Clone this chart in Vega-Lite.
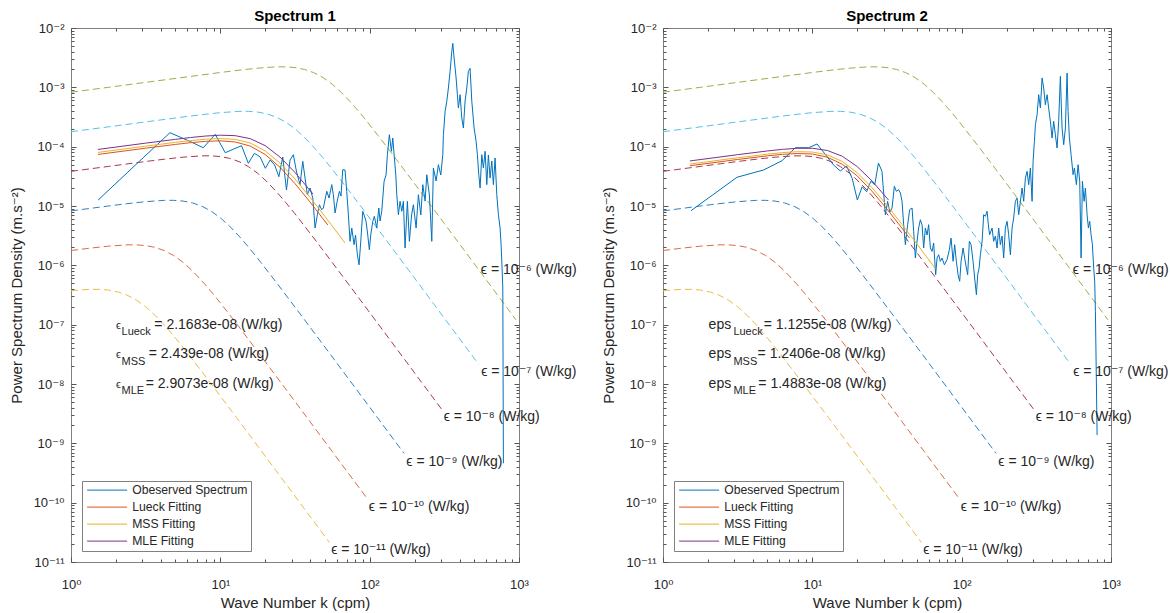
{
  "$schema": "https://vega.github.io/schema/vega-lite/v6.json",
  "autosize": {"type": "pad"},
  "padding": {"left": 8, "top": 8, "right": 5, "bottom": 2},
  "bounds": "flush",
  "spacing": 144,
  "config": {
    "font": "Liberation Sans",
    "view": {"stroke": "#808080", "strokeWidth": 1},
    "axis": {"domain": false, "grid": false, "labelFont": "Liberation Sans, DejaVu Sans", "labelFontSize": 13, "labelColor": "#262626", "titleFont": "Liberation Sans, DejaVu Sans", "titleFontSize": 15, "titleFontWeight": "normal", "titleColor": "#262626", "tickColor": "#555555", "tickWidth": 1, "labelOverlap": false, "labelFlush": false, "labelBound": false},
    "title": {"font": "Liberation Sans", "fontSize": 15, "fontWeight": "bold", "color": "#000000", "offset": -2},
    "legend": {"title": null, "labelFont": "Liberation Sans", "labelFontSize": 12.2, "labelColor": "#262626", "strokeColor": "#808080", "fillColor": "#ffffff", "padding": 3, "rowPadding": 4, "labelOffset": 35, "symbolType": "M-0.8,0H7.2", "symbolSize": 100, "symbolStrokeWidth": 1, "cornerRadius": 0}
  },
  "datasets": {
    "eps": [
      {"eps": "1e-6", "k": 1, "psd": 8.28e-4}, {"eps": "1e-6", "k": 1.778, "psd": 1.0e-3}, {"eps": "1e-6", "k": 3.162, "psd": 1.213e-3}, {"eps": "1e-6", "k": 5.623, "psd": 1.469e-3}, {"eps": "1e-6", "k": 10, "psd": 1.778e-3}, {"eps": "1e-6", "k": 13.34, "psd": 1.945e-3}, {"eps": "1e-6", "k": 17.78, "psd": 2.104e-3}, {"eps": "1e-6", "k": 23.71, "psd": 2.213e-3}, {"eps": "1e-6", "k": 27.38, "psd": 2.216e-3}, {"eps": "1e-6", "k": 31.62, "psd": 2.153e-3}, {"eps": "1e-6", "k": 36.52, "psd": 2.009e-3}, {"eps": "1e-6", "k": 42.17, "psd": 1.77e-3}, {"eps": "1e-6", "k": 48.7, "psd": 1.462e-3}, {"eps": "1e-6", "k": 56.23, "psd": 1.125e-3}, {"eps": "1e-6", "k": 64.94, "psd": 8.1e-4}, {"eps": "1e-6", "k": 74.99, "psd": 5.53e-4}, {"eps": "1e-6", "k": 86.6, "psd": 3.64e-4}, {"eps": "1e-6", "k": 100, "psd": 2.333e-4}, {"eps": "1e-6", "k": 133.4, "psd": 9.18e-5}, {"eps": "1e-6", "k": 177.8, "psd": 3.516e-5}, {"eps": "1e-6", "k": 237.1, "psd": 1.34e-5}, {"eps": "1e-6", "k": 316.2, "psd": 5.07e-6}, {"eps": "1e-6", "k": 562.3, "psd": 7.23e-7}, {"eps": "1e-6", "k": 955, "psd": 1.205e-7},
      {"eps": "1e-7", "k": 1, "psd": 1.782e-4}, {"eps": "1e-7", "k": 1.778, "psd": 2.158e-4}, {"eps": "1e-7", "k": 3.162, "psd": 2.612e-4}, {"eps": "1e-7", "k": 5.623, "psd": 3.162e-4}, {"eps": "1e-7", "k": 7.499, "psd": 3.459e-4}, {"eps": "1e-7", "k": 10, "psd": 3.741e-4}, {"eps": "1e-7", "k": 13.34, "psd": 3.936e-4}, {"eps": "1e-7", "k": 15.4, "psd": 3.94e-4}, {"eps": "1e-7", "k": 17.78, "psd": 3.828e-4}, {"eps": "1e-7", "k": 20.54, "psd": 3.573e-4}, {"eps": "1e-7", "k": 23.71, "psd": 3.148e-4}, {"eps": "1e-7", "k": 27.38, "psd": 2.6e-4}, {"eps": "1e-7", "k": 31.62, "psd": 2.0e-4}, {"eps": "1e-7", "k": 36.52, "psd": 1.44e-4}, {"eps": "1e-7", "k": 42.17, "psd": 9.84e-5}, {"eps": "1e-7", "k": 48.7, "psd": 6.48e-5}, {"eps": "1e-7", "k": 56.23, "psd": 4.15e-5}, {"eps": "1e-7", "k": 74.99, "psd": 1.633e-5}, {"eps": "1e-7", "k": 100, "psd": 6.25e-6}, {"eps": "1e-7", "k": 133.4, "psd": 2.382e-6}, {"eps": "1e-7", "k": 177.8, "psd": 9.02e-7}, {"eps": "1e-7", "k": 316.2, "psd": 1.285e-7}, {"eps": "1e-7", "k": 537, "psd": 2.143e-8},
      {"eps": "1e-8", "k": 1, "psd": 3.837e-5}, {"eps": "1e-8", "k": 1.778, "psd": 4.645e-5}, {"eps": "1e-8", "k": 3.162, "psd": 5.623e-5}, {"eps": "1e-8", "k": 4.217, "psd": 6.15e-5}, {"eps": "1e-8", "k": 5.623, "psd": 6.65e-5}, {"eps": "1e-8", "k": 7.499, "psd": 7.0e-5}, {"eps": "1e-8", "k": 8.66, "psd": 7.01e-5}, {"eps": "1e-8", "k": 10, "psd": 6.81e-5}, {"eps": "1e-8", "k": 11.55, "psd": 6.35e-5}, {"eps": "1e-8", "k": 13.34, "psd": 5.6e-5}, {"eps": "1e-8", "k": 15.4, "psd": 4.62e-5}, {"eps": "1e-8", "k": 17.78, "psd": 3.556e-5}, {"eps": "1e-8", "k": 20.54, "psd": 2.562e-5}, {"eps": "1e-8", "k": 23.71, "psd": 1.75e-5}, {"eps": "1e-8", "k": 27.38, "psd": 1.152e-5}, {"eps": "1e-8", "k": 31.62, "psd": 7.38e-6}, {"eps": "1e-8", "k": 42.17, "psd": 2.904e-6}, {"eps": "1e-8", "k": 56.23, "psd": 1.112e-6}, {"eps": "1e-8", "k": 74.99, "psd": 4.236e-7}, {"eps": "1e-8", "k": 100, "psd": 1.603e-7}, {"eps": "1e-8", "k": 177.8, "psd": 2.286e-8}, {"eps": "1e-8", "k": 302, "psd": 3.81e-9},
      {"eps": "1e-9", "k": 1, "psd": 8.26e-6}, {"eps": "1e-9", "k": 1.778, "psd": 1.0e-5}, {"eps": "1e-9", "k": 2.371, "psd": 1.094e-5}, {"eps": "1e-9", "k": 3.162, "psd": 1.183e-5}, {"eps": "1e-9", "k": 4.217, "psd": 1.245e-5}, {"eps": "1e-9", "k": 4.87, "psd": 1.246e-5}, {"eps": "1e-9", "k": 5.623, "psd": 1.211e-5}, {"eps": "1e-9", "k": 6.494, "psd": 1.13e-5}, {"eps": "1e-9", "k": 7.499, "psd": 9.95e-6}, {"eps": "1e-9", "k": 8.66, "psd": 8.22e-6}, {"eps": "1e-9", "k": 10, "psd": 6.32e-6}, {"eps": "1e-9", "k": 11.55, "psd": 4.554e-6}, {"eps": "1e-9", "k": 13.34, "psd": 3.112e-6}, {"eps": "1e-9", "k": 15.4, "psd": 2.048e-6}, {"eps": "1e-9", "k": 17.78, "psd": 1.312e-6}, {"eps": "1e-9", "k": 23.71, "psd": 5.16e-7}, {"eps": "1e-9", "k": 31.62, "psd": 1.977e-7}, {"eps": "1e-9", "k": 42.17, "psd": 7.53e-8}, {"eps": "1e-9", "k": 56.23, "psd": 2.851e-8}, {"eps": "1e-9", "k": 100, "psd": 4.064e-9}, {"eps": "1e-9", "k": 169.8, "psd": 6.78e-10},
      {"eps": "1e-10", "k": 1, "psd": 1.778e-6}, {"eps": "1e-10", "k": 1.334, "psd": 1.945e-6}, {"eps": "1e-10", "k": 1.778, "psd": 2.104e-6}, {"eps": "1e-10", "k": 2.371, "psd": 2.213e-6}, {"eps": "1e-10", "k": 2.738, "psd": 2.216e-6}, {"eps": "1e-10", "k": 3.162, "psd": 2.153e-6}, {"eps": "1e-10", "k": 3.652, "psd": 2.009e-6}, {"eps": "1e-10", "k": 4.217, "psd": 1.77e-6}, {"eps": "1e-10", "k": 4.87, "psd": 1.462e-6}, {"eps": "1e-10", "k": 5.623, "psd": 1.125e-6}, {"eps": "1e-10", "k": 6.494, "psd": 8.1e-7}, {"eps": "1e-10", "k": 7.499, "psd": 5.53e-7}, {"eps": "1e-10", "k": 8.66, "psd": 3.64e-7}, {"eps": "1e-10", "k": 10, "psd": 2.333e-7}, {"eps": "1e-10", "k": 13.34, "psd": 9.18e-8}, {"eps": "1e-10", "k": 17.78, "psd": 3.516e-8}, {"eps": "1e-10", "k": 23.71, "psd": 1.34e-8}, {"eps": "1e-10", "k": 31.62, "psd": 5.07e-9}, {"eps": "1e-10", "k": 56.23, "psd": 7.23e-10}, {"eps": "1e-10", "k": 95.5, "psd": 1.205e-10},
      {"eps": "1e-11", "k": 1, "psd": 3.741e-7}, {"eps": "1e-11", "k": 1.334, "psd": 3.936e-7}, {"eps": "1e-11", "k": 1.54, "psd": 3.94e-7}, {"eps": "1e-11", "k": 1.778, "psd": 3.828e-7}, {"eps": "1e-11", "k": 2.054, "psd": 3.573e-7}, {"eps": "1e-11", "k": 2.371, "psd": 3.148e-7}, {"eps": "1e-11", "k": 2.738, "psd": 2.6e-7}, {"eps": "1e-11", "k": 3.162, "psd": 2.0e-7}, {"eps": "1e-11", "k": 3.652, "psd": 1.44e-7}, {"eps": "1e-11", "k": 4.217, "psd": 9.84e-8}, {"eps": "1e-11", "k": 4.87, "psd": 6.48e-8}, {"eps": "1e-11", "k": 5.623, "psd": 4.15e-8}, {"eps": "1e-11", "k": 7.499, "psd": 1.633e-8}, {"eps": "1e-11", "k": 10, "psd": 6.25e-9}, {"eps": "1e-11", "k": 13.34, "psd": 2.382e-9}, {"eps": "1e-11", "k": 17.78, "psd": 9.02e-10}, {"eps": "1e-11", "k": 31.62, "psd": 1.285e-10}, {"eps": "1e-11", "k": 53.7, "psd": 2.143e-11}
    ],
    "epslabels": [
      {"k": 555, "psd": 8.34e-7, "label": "ϵ = 10⁻⁶ (W/kg)"},
      {"k": 558, "psd": 1.61e-8, "label": "ϵ = 10⁻⁷ (W/kg)"},
      {"k": 313, "psd": 2.81e-9, "label": "ϵ = 10⁻⁸ (W/kg)"},
      {"k": 176, "psd": 4.9e-10, "label": "ϵ = 10⁻⁹ (W/kg)"},
      {"k": 98.7, "psd": 8.55e-11, "label": "ϵ = 10⁻¹⁰ (W/kg)"},
      {"k": 55.2, "psd": 1.59e-11, "label": "ϵ = 10⁻¹¹ (W/kg)"}
    ],
    "fit1": [
      {"series": "Lueck Fitting", "k": 1.514, "psd": 7.385e-5}, {"series": "Lueck Fitting", "k": 3.162, "psd": 9.43e-5}, {"series": "Lueck Fitting", "k": 5.012, "psd": 1.092e-4}, {"series": "Lueck Fitting", "k": 6.31, "psd": 1.166e-4}, {"series": "Lueck Fitting", "k": 7.943, "psd": 1.229e-4}, {"series": "Lueck Fitting", "k": 10, "psd": 1.254e-4}, {"series": "Lueck Fitting", "k": 12.59, "psd": 1.2e-4}, {"series": "Lueck Fitting", "k": 15.85, "psd": 1.024e-4}, {"series": "Lueck Fitting", "k": 19.95, "psd": 7.39e-5}, {"series": "Lueck Fitting", "k": 25.12, "psd": 4.486e-5}, {"series": "Lueck Fitting", "k": 31.62, "psd": 2.385e-5}, {"series": "Lueck Fitting", "k": 39.81, "psd": 1.174e-5}, {"series": "Lueck Fitting", "k": 52.48, "psd": 4.78e-6},
      {"series": "MSS Fitting", "k": 1.514, "psd": 7.99e-5}, {"series": "MSS Fitting", "k": 3.162, "psd": 1.02e-4}, {"series": "MSS Fitting", "k": 5.012, "psd": 1.182e-4}, {"series": "MSS Fitting", "k": 6.31, "psd": 1.264e-4}, {"series": "MSS Fitting", "k": 7.943, "psd": 1.335e-4}, {"series": "MSS Fitting", "k": 10, "psd": 1.371e-4}, {"series": "MSS Fitting", "k": 12.59, "psd": 1.327e-4}, {"series": "MSS Fitting", "k": 15.85, "psd": 1.152e-4}, {"series": "MSS Fitting", "k": 19.95, "psd": 8.51e-5}, {"series": "MSS Fitting", "k": 25.12, "psd": 5.275e-5}, {"series": "MSS Fitting", "k": 31.62, "psd": 2.847e-5}, {"series": "MSS Fitting", "k": 39.81, "psd": 1.41e-5}, {"series": "MSS Fitting", "k": 50.12, "psd": 6.71e-6}, {"series": "MSS Fitting", "k": 63.1, "psd": 3.123e-6}, {"series": "MSS Fitting", "k": 68.39, "psd": 2.385e-6},
      {"series": "MLE Fitting", "k": 1.514, "psd": 8.98e-5}, {"series": "MLE Fitting", "k": 3.162, "psd": 1.147e-4}, {"series": "MLE Fitting", "k": 5.012, "psd": 1.33e-4}, {"series": "MLE Fitting", "k": 6.31, "psd": 1.425e-4}, {"series": "MLE Fitting", "k": 7.943, "psd": 1.51e-4}, {"series": "MLE Fitting", "k": 10, "psd": 1.561e-4}, {"series": "MLE Fitting", "k": 12.59, "psd": 1.533e-4}, {"series": "MLE Fitting", "k": 15.85, "psd": 1.365e-4}, {"series": "MLE Fitting", "k": 19.95, "psd": 1.042e-4}, {"series": "MLE Fitting", "k": 25.12, "psd": 6.67e-5}, {"series": "MLE Fitting", "k": 31.62, "psd": 3.676e-5}, {"series": "MLE Fitting", "k": 41.69, "psd": 1.596e-5}
    ],
    "fit2": [
      {"series": "Lueck Fitting", "k": 1.514, "psd": 4.77e-5}, {"series": "Lueck Fitting", "k": 3.162, "psd": 6.083e-5}, {"series": "Lueck Fitting", "k": 5.012, "psd": 7.008e-5}, {"series": "Lueck Fitting", "k": 6.31, "psd": 7.42e-5}, {"series": "Lueck Fitting", "k": 7.943, "psd": 7.666e-5}, {"series": "Lueck Fitting", "k": 10, "psd": 7.51e-5}, {"series": "Lueck Fitting", "k": 12.59, "psd": 6.66e-5}, {"series": "Lueck Fitting", "k": 15.85, "psd": 5.06e-5}, {"series": "Lueck Fitting", "k": 19.95, "psd": 3.224e-5}, {"series": "Lueck Fitting", "k": 25.12, "psd": 1.77e-5}, {"series": "Lueck Fitting", "k": 31.62, "psd": 8.87e-6}, {"series": "Lueck Fitting", "k": 39.81, "psd": 4.236e-6}, {"series": "Lueck Fitting", "k": 44.67, "psd": 2.897e-6},
      {"series": "MSS Fitting", "k": 1.514, "psd": 5.09e-5}, {"series": "MSS Fitting", "k": 3.162, "psd": 6.493e-5}, {"series": "MSS Fitting", "k": 5.012, "psd": 7.486e-5}, {"series": "MSS Fitting", "k": 6.31, "psd": 7.94e-5}, {"series": "MSS Fitting", "k": 7.943, "psd": 8.232e-5}, {"series": "MSS Fitting", "k": 10, "psd": 8.12e-5}, {"series": "MSS Fitting", "k": 12.59, "psd": 7.295e-5}, {"series": "MSS Fitting", "k": 15.85, "psd": 5.64e-5}, {"series": "MSS Fitting", "k": 19.95, "psd": 3.652e-5}, {"series": "MSS Fitting", "k": 25.12, "psd": 2.032e-5}, {"series": "MSS Fitting", "k": 31.62, "psd": 1.024e-5}, {"series": "MSS Fitting", "k": 39.81, "psd": 4.907e-6}, {"series": "MSS Fitting", "k": 50.12, "psd": 2.296e-6}, {"series": "MSS Fitting", "k": 66.68, "psd": 8.85e-7},
      {"series": "MLE Fitting", "k": 1.514, "psd": 5.748e-5}, {"series": "MLE Fitting", "k": 3.162, "psd": 7.333e-5}, {"series": "MLE Fitting", "k": 5.012, "psd": 8.47e-5}, {"series": "MLE Fitting", "k": 6.31, "psd": 9.01e-5}, {"series": "MLE Fitting", "k": 7.943, "psd": 9.4e-5}, {"series": "MLE Fitting", "k": 10, "psd": 9.4e-5}, {"series": "MLE Fitting", "k": 12.59, "psd": 8.63e-5}, {"series": "MLE Fitting", "k": 15.85, "psd": 6.908e-5}, {"series": "MLE Fitting", "k": 19.95, "psd": 4.63e-5}, {"series": "MLE Fitting", "k": 25.12, "psd": 2.643e-5}, {"series": "MLE Fitting", "k": 32.36, "psd": 1.261e-5}
    ],
    "obs1": [
      {"k": 1.52, "psd": 1.26e-5}, {"k": 3.08, "psd": 6.7e-5}, {"k": 4.6, "psd": 1.72e-4}, {"k": 6.17, "psd": 1.245e-4}, {"k": 7.69, "psd": 9.6e-5}, {"k": 9.24, "psd": 1.615e-4}, {"k": 10.78, "psd": 7.91e-5}, {"k": 12.32, "psd": 9.14e-5}, {"k": 13.87, "psd": 1.038e-4}, {"k": 15.4, "psd": 5.25e-5}, {"k": 16.92, "psd": 7.73e-5}, {"k": 18.48, "psd": 6.7e-5}, {"k": 20.02, "psd": 4.32e-5}, {"k": 21.56, "psd": 5.96e-5}, {"k": 23.11, "psd": 4.91e-5}, {"k": 24.65, "psd": 3.12e-5}, {"k": 26.18, "psd": 6.7e-5}, {"k": 27.72, "psd": 1.86e-5}, {"k": 29.3, "psd": 5.96e-5}, {"k": 30.83, "psd": 7.32e-5}, {"k": 32.38, "psd": 3.74e-5}, {"k": 34.19, "psd": 2.29e-5}, {"k": 35.64, "psd": 5.66e-5}, {"k": 36.93, "psd": 2.96e-5}, {"k": 38.26, "psd": 1.55e-5}, {"k": 39.89, "psd": 2.01e-5}, {"k": 41.59, "psd": 1.36e-5}, {"k": 43.09, "psd": 4.26e-6}, {"k": 44.65, "psd": 7.13e-6}, {"k": 46.04, "psd": 1.05e-5}, {"k": 47.78, "psd": 8.66e-6}, {"k": 48.97, "psd": 9.25e-6}, {"k": 51.61, "psd": 1.77e-5}, {"k": 53.47, "psd": 1.36e-5}, {"k": 55.74, "psd": 2.29e-5}, {"k": 57.14, "psd": 1.55e-5}, {"k": 58.66, "psd": 7.62e-6}, {"k": 60.5, "psd": 1.17e-5}, {"k": 62.7, "psd": 1.77e-5}, {"k": 64.3, "psd": 1.47e-5}, {"k": 66.0, "psd": 4.09e-5}, {"k": 68.4, "psd": 4.04e-5}, {"k": 70.2, "psd": 1.77e-5}, {"k": 72.0, "psd": 7.13e-6}, {"k": 73.9, "psd": 2.54e-6}, {"k": 75.9, "psd": 4.26e-6}, {"k": 78.6, "psd": 2.23e-6}, {"k": 80.4, "psd": 3.24e-6}, {"k": 82.7, "psd": 1.51e-6}, {"k": 84.9, "psd": 1.02e-6}, {"k": 87.2, "psd": 2.57e-6}, {"k": 89.9, "psd": 8.14e-6}, {"k": 91.7, "psd": 7.05e-6}, {"k": 94.6, "psd": 5.52e-6}, {"k": 97.1, "psd": 3.24e-6}, {"k": 99.5, "psd": 1.83e-6}, {"k": 101.7, "psd": 3.24e-6}, {"k": 104.9, "psd": 5.52e-6}, {"k": 107.5, "psd": 6.7e-6}, {"k": 111.6, "psd": 4.26e-6}, {"k": 115.1, "psd": 9.25e-6}, {"k": 117.4, "psd": 5.58e-6}, {"k": 120.5, "psd": 8.14e-6}, {"k": 124.9, "psd": 2.61e-5}, {"k": 128.8, "psd": 3.37e-5}, {"k": 131.4, "psd": 7.32e-5}, {"k": 135.5, "psd": 1.59e-4}, {"k": 139.8, "psd": 8.36e-5}, {"k": 142.8, "psd": 1.4e-4}, {"k": 146.4, "psd": 6.44e-5}, {"k": 149.6, "psd": 3.37e-5}, {"k": 151.9, "psd": 1.55e-5}, {"k": 155.7, "psd": 7.13e-6}, {"k": 159.8, "psd": 1.2e-5}, {"k": 164.1, "psd": 8.14e-6}, {"k": 168.2, "psd": 1.2e-5}, {"k": 172.6, "psd": 1.96e-6}, {"k": 178.9, "psd": 1.2e-5}, {"k": 184.5, "psd": 2.54e-6}, {"k": 190.9, "psd": 7.05e-6}, {"k": 196.2, "psd": 1.05e-5}, {"k": 204.6, "psd": 4.26e-6}, {"k": 212.0, "psd": 1.55e-5}, {"k": 220.0, "psd": 7.05e-6}, {"k": 226.9, "psd": 2.29e-5}, {"k": 235.0, "psd": 1.21e-5}, {"k": 241.3, "psd": 3.37e-5}, {"k": 251.2, "psd": 1.53e-5}, {"k": 260.6, "psd": 2.54e-6}, {"k": 267.1, "psd": 4.37e-5}, {"k": 278.5, "psd": 2.64e-5}, {"k": 288.6, "psd": 4.97e-5}, {"k": 299.5, "psd": 3.33e-5}, {"k": 308.8, "psd": 7.32e-5}, {"k": 311.7, "psd": 1.59e-4}, {"k": 320.0, "psd": 3.94e-4}, {"k": 328.4, "psd": 5.81e-4}, {"k": 336.6, "psd": 9.74e-4}, {"k": 345.6, "psd": 1.86e-3}, {"k": 354.8, "psd": 4.05e-3}, {"k": 360.3, "psd": 5.52e-3}, {"k": 367.6, "psd": 3.12e-3}, {"k": 379.1, "psd": 1.44e-3}, {"k": 386.8, "psd": 7.52e-4}, {"k": 392.8, "psd": 4.49e-4}, {"k": 403.3, "psd": 7.52e-4}, {"k": 414.0, "psd": 3.04e-4}, {"k": 424.3, "psd": 2.06e-4}, {"k": 435.5, "psd": 5.89e-4}, {"k": 447.1, "psd": 9.74e-4}, {"k": 458.2, "psd": 1.86e-3}, {"k": 470.4, "psd": 2.09e-3}, {"k": 483.0, "psd": 5.81e-4}, {"k": 500.4, "psd": 2.06e-4}, {"k": 516.1, "psd": 1.23e-4}, {"k": 526.5, "psd": 7.32e-5}, {"k": 537.9, "psd": 3.37e-5}, {"k": 548.9, "psd": 2.01e-5}, {"k": 563.4, "psd": 7.32e-5}, {"k": 577.5, "psd": 4.37e-5}, {"k": 592.8, "psd": 8.36e-5}, {"k": 608.5, "psd": 2.29e-5}, {"k": 623.7, "psd": 7.24e-5}, {"k": 640.3, "psd": 2.96e-5}, {"k": 657.3, "psd": 5.73e-5}, {"k": 673.7, "psd": 2.29e-5}, {"k": 691.6, "psd": 6.44e-5}, {"k": 710.0, "psd": 1.55e-5}, {"k": 727.8, "psd": 7.13e-6}, {"k": 747.1, "psd": 4.26e-6}, {"k": 758.7, "psd": 2.23e-6}, {"k": 767.0, "psd": 1.17e-6}, {"k": 779.0, "psd": 4.15e-7}, {"k": 786.2, "psd": 4.6e-10}
    ],
    "obs2": [
      {"k": 1.54, "psd": 8.34e-6}, {"k": 3.13, "psd": 3.05e-5}, {"k": 4.72, "psd": 4.05e-5}, {"k": 6.27, "psd": 5.8e-5}, {"k": 7.69, "psd": 9.6e-5}, {"k": 9.45, "psd": 9.6e-5}, {"k": 10.75, "psd": 1.11e-4}, {"k": 12.31, "psd": 7.24e-5}, {"k": 13.87, "psd": 4.91e-5}, {"k": 15.4, "psd": 3.89e-5}, {"k": 16.95, "psd": 4.72e-5}, {"k": 18.48, "psd": 2.93e-5}, {"k": 20.02, "psd": 1.26e-5}, {"k": 21.56, "psd": 2.11e-5}, {"k": 23.11, "psd": 1.74e-5}, {"k": 24.65, "psd": 2.61e-5}, {"k": 26.18, "psd": 2.29e-5}, {"k": 27.72, "psd": 5.3e-5}, {"k": 29.26, "psd": 3.85e-5}, {"k": 30.83, "psd": 7.13e-6}, {"k": 31.94, "psd": 1.2e-5}, {"k": 33.04, "psd": 7.92e-6}, {"k": 34.19, "psd": 9.25e-6}, {"k": 35.42, "psd": 2.15e-5}, {"k": 36.53, "psd": 1.77e-5}, {"k": 37.84, "psd": 1.88e-5}, {"k": 38.85, "psd": 1.66e-5}, {"k": 39.89, "psd": 1.2e-5}, {"k": 40.89, "psd": 4.84e-6}, {"k": 41.98, "psd": 2.23e-6}, {"k": 43.49, "psd": 4.84e-6}, {"k": 44.85, "psd": 8.66e-6}, {"k": 46.54, "psd": 9.25e-6}, {"k": 47.7, "psd": 3.74e-6}, {"k": 48.97, "psd": 1.33e-6}, {"k": 50.27, "psd": 2.57e-6}, {"k": 51.52, "psd": 4.26e-6}, {"k": 52.89, "psd": 5.87e-6}, {"k": 54.3, "psd": 4.79e-6}, {"k": 55.66, "psd": 1.96e-6}, {"k": 57.14, "psd": 4.26e-6}, {"k": 58.66, "psd": 3.24e-6}, {"k": 60.12, "psd": 4.84e-6}, {"k": 61.72, "psd": 1.96e-6}, {"k": 63.37, "psd": 1.72e-6}, {"k": 64.93, "psd": 2.38e-6}, {"k": 66.97, "psd": 6.95e-7}, {"k": 68.43, "psd": 1.33e-6}, {"k": 70.14, "psd": 1.51e-6}, {"k": 72.0, "psd": 1.17e-6}, {"k": 73.9, "psd": 1.33e-6}, {"k": 76.6, "psd": 1.02e-6}, {"k": 79.8, "psd": 1.245e-6}, {"k": 82.7, "psd": 1.83e-6}, {"k": 84.9, "psd": 2.88e-6}, {"k": 87.6, "psd": 1.17e-6}, {"k": 89.8, "psd": 2.23e-6}, {"k": 92.1, "psd": 1.17e-6}, {"k": 94.6, "psd": 6.95e-7}, {"k": 97.0, "psd": 5.38e-7}, {"k": 99.1, "psd": 1.17e-6}, {"k": 102.2, "psd": 1.96e-6}, {"k": 104.7, "psd": 1.33e-6}, {"k": 107.5, "psd": 9.02e-7}, {"k": 109.7, "psd": 6.95e-7}, {"k": 112.6, "psd": 2.54e-6}, {"k": 115.6, "psd": 2.23e-6}, {"k": 119.2, "psd": 1.17e-6}, {"k": 122.2, "psd": 6.11e-7}, {"k": 125.5, "psd": 3.2e-7}, {"k": 128.0, "psd": 6.95e-7}, {"k": 130.8, "psd": 9.02e-7}, {"k": 133.5, "psd": 1.51e-6}, {"k": 137.0, "psd": 2.54e-6}, {"k": 140.4, "psd": 7.13e-6}, {"k": 144.1, "psd": 6.7e-6}, {"k": 148.0, "psd": 8.14e-6}, {"k": 151.7, "psd": 4.26e-6}, {"k": 154.0, "psd": 3.28e-6}, {"k": 159.8, "psd": 4.26e-6}, {"k": 163.8, "psd": 2.54e-6}, {"k": 168.2, "psd": 3.12e-6}, {"k": 172.6, "psd": 1.96e-6}, {"k": 176.9, "psd": 4.26e-6}, {"k": 181.6, "psd": 2.23e-6}, {"k": 186.4, "psd": 3.12e-6}, {"k": 191.1, "psd": 1.33e-6}, {"k": 196.2, "psd": 4.26e-6}, {"k": 201.4, "psd": 5.52e-6}, {"k": 206.5, "psd": 3.28e-6}, {"k": 212.0, "psd": 1.51e-6}, {"k": 217.6, "psd": 4.26e-6}, {"k": 223.0, "psd": 6.28e-6}, {"k": 228.9, "psd": 1.2e-5}, {"k": 235.0, "psd": 1.36e-5}, {"k": 240.9, "psd": 7.13e-6}, {"k": 247.3, "psd": 1.2e-5}, {"k": 253.9, "psd": 2.01e-5}, {"k": 260.2, "psd": 1.2e-5}, {"k": 267.1, "psd": 2.96e-5}, {"k": 274.2, "psd": 3.85e-5}, {"k": 281.1, "psd": 2.29e-5}, {"k": 288.5, "psd": 4.37e-5}, {"k": 296.2, "psd": 1.2e-5}, {"k": 300.8, "psd": 5.66e-5}, {"k": 306.9, "psd": 1.23e-4}, {"k": 311.7, "psd": 2.34e-4}, {"k": 319.9, "psd": 3.46e-4}, {"k": 327.9, "psd": 7.52e-4}, {"k": 336.6, "psd": 4.49e-4}, {"k": 345.6, "psd": 1.44e-3}, {"k": 354.2, "psd": 9.74e-4}, {"k": 363.4, "psd": 5.09e-4}, {"k": 373.3, "psd": 7.52e-4}, {"k": 382.4, "psd": 4.49e-4}, {"k": 392.6, "psd": 2.68e-4}, {"k": 403.1, "psd": 1.4e-4}, {"k": 413.1, "psd": 2.68e-4}, {"k": 424.1, "psd": 1.59e-4}, {"k": 435.4, "psd": 9.49e-5}, {"k": 446.3, "psd": 2.68e-4}, {"k": 458.1, "psd": 1.53e-3}, {"k": 470.3, "psd": 2.06e-4}, {"k": 482.2, "psd": 1.08e-4}, {"k": 495.0, "psd": 2.06e-4}, {"k": 508.1, "psd": 1.74e-3}, {"k": 516.0, "psd": 3.94e-4}, {"k": 526.5, "psd": 1.4e-4}, {"k": 540.4, "psd": 7.32e-5}, {"k": 557.4, "psd": 3.37e-5}, {"k": 568.7, "psd": 4.37e-5}, {"k": 586.5, "psd": 2.29e-5}, {"k": 602.1, "psd": 4.97e-5}, {"k": 617.2, "psd": 2.61e-5}, {"k": 630.6, "psd": 1.33e-6}, {"k": 643.4, "psd": 2.61e-5}, {"k": 660.5, "psd": 1.2e-5}, {"k": 673.9, "psd": 2.01e-5}, {"k": 691.7, "psd": 7.13e-6}, {"k": 705.8, "psd": 4.26e-6}, {"k": 720.0, "psd": 5.52e-6}, {"k": 735.8, "psd": 3.28e-6}, {"k": 750.7, "psd": 2.23e-6}, {"k": 765.9, "psd": 9.02e-7}, {"k": 777.8, "psd": 5.38e-7}, {"k": 786.3, "psd": 1.68e-7}, {"k": 807.2, "psd": 1.38e-9}
    ],
    "annot1": [
      {"k": 2.001, "psd": 8.45e-8, "text": "ϵ", "role": "sym"}, {"k": 2.179, "psd": 6.69e-8, "text": "Lueck", "role": "sub"}, {"k": 3.614, "psd": 8.45e-8, "text": "= 2.1683e-08 (W/kg)", "role": "main"},
      {"k": 2.001, "psd": 2.71e-8, "text": "ϵ", "role": "sym"}, {"k": 2.179, "psd": 2.13e-8, "text": "MSS", "role": "sub"}, {"k": 3.315, "psd": 2.71e-8, "text": "= 2.439e-08 (W/kg)", "role": "main"},
      {"k": 2.001, "psd": 8.55e-9, "text": "ϵ", "role": "sym"}, {"k": 2.179, "psd": 6.78e-9, "text": "MLE", "role": "sub"}, {"k": 3.165, "psd": 8.55e-9, "text": "= 2.9073e-08 (W/kg)", "role": "main"}
    ],
    "annot2": [
      {"k": 2.02, "psd": 8.45e-8, "text": "eps", "role": "main"}, {"k": 2.96, "psd": 6.69e-8, "text": "Lueck", "role": "sub"}, {"k": 4.72, "psd": 8.45e-8, "text": "= 1.1255e-08 (W/kg)", "role": "main"},
      {"k": 2.02, "psd": 2.71e-8, "text": "eps", "role": "main"}, {"k": 2.96, "psd": 2.13e-8, "text": "MSS", "role": "sub"}, {"k": 4.3, "psd": 2.71e-8, "text": "= 1.2406e-08 (W/kg)", "role": "main"},
      {"k": 2.02, "psd": 8.55e-9, "text": "eps", "role": "main"}, {"k": 2.96, "psd": 6.78e-9, "text": "MLE", "role": "sub"}, {"k": 4.35, "psd": 8.55e-9, "text": "= 1.4883e-08 (W/kg)", "role": "main"}
    ]
  },
  "hconcat": [
    {
      "width": 448, "height": 534,
      "title": {"text": "Spectrum 1"},
      "layer": [
        {
          "data": {"name": "eps"},
          "mark": {"type": "line", "strokeDash": [7, 4], "strokeWidth": 1},
          "encoding": {
            "x": {"field": "k", "type": "quantitative", "scale": {"type": "log", "domain": [1, 1000], "nice": false},
              "axis": {"orient": "bottom", "title": "Wave Number k (cpm)", "values": [1,2,3,4,5,6,7,8,9,10,20,30,40,50,60,70,80,90,100,200,300,400,500,600,700,800,900,1000],
                "labelExpr": "abs(log(datum.value)/LN10 - round(log(datum.value)/LN10)) < 0.001 ? '10' + ['⁰','¹','²','³'][round(log(datum.value)/LN10)] : ''",
                "tickSize": {"condition": {"test": "abs(log(datum.value)/LN10 - round(log(datum.value)/LN10)) < 0.001", "value": -5}, "value": -3},
                "labelPadding": 21, "titlePadding": 2}},
            "y": {"field": "psd", "type": "quantitative", "scale": {"type": "log", "domain": [1e-11, 1e-2], "nice": false},
              "axis": {"orient": "left", "title": "Power Spectrum Density (m.s⁻²)", "values": [1e-11,2e-11,3e-11,4e-11,5e-11,6e-11,7e-11,8e-11,9e-11,1e-10,2e-10,3e-10,4e-10,5e-10,6e-10,7e-10,8e-10,9e-10,1e-9,2e-9,3e-9,4e-9,5e-9,6e-9,7e-9,8e-9,9e-9,1e-8,2e-8,3e-8,4e-8,5e-8,6e-8,7e-8,8e-8,9e-8,1e-7,2e-7,3e-7,4e-7,5e-7,6e-7,7e-7,8e-7,9e-7,1e-6,2e-6,3e-6,4e-6,5e-6,6e-6,7e-6,8e-6,9e-6,1e-5,2e-5,3e-5,4e-5,5e-5,6e-5,7e-5,8e-5,9e-5,1e-4,2e-4,3e-4,4e-4,5e-4,6e-4,7e-4,8e-4,9e-4,1e-3,2e-3,3e-3,4e-3,5e-3,6e-3,7e-3,8e-3,9e-3,1e-2],
                "labelExpr": "abs(log(datum.value)/LN10 - round(log(datum.value)/LN10)) < 0.001 ? '10' + ['⁻¹¹','⁻¹⁰','⁻⁹','⁻⁸','⁻⁷','⁻⁶','⁻⁵','⁻⁴','⁻³','⁻²'][round(log(datum.value)/LN10)+11] : ''",
                "tickSize": {"condition": {"test": "abs(log(datum.value)/LN10 - round(log(datum.value)/LN10)) < 0.001", "value": -5}, "value": -3},
                "labelPadding": 12, "titlePadding": 9}},
            "stroke": {"field": "eps", "type": "nominal", "scale": {"domain": ["1e-6","1e-7","1e-8","1e-9","1e-10","1e-11"], "range": ["#9aae4a","#58c0ec","#a8384f","#2f80c0","#dc6a44","#ebbb45"]}, "legend": null}
          }
        },
        {
          "data": {"name": "obs1"},
          "mark": {"type": "line", "strokeWidth": 1},
          "encoding": {
            "x": {"field": "k", "type": "quantitative", "axis": null},
            "y": {"field": "psd", "type": "quantitative", "axis": null},
            "color": {"datum": "Obeserved Spectrum", "type": "nominal",
              "scale": {"domain": ["Obeserved Spectrum", "Lueck Fitting", "MSS Fitting", "MLE Fitting"], "range": ["#0072BD", "#D95319", "#EDB120", "#7E2F8E"]},
              "legend": {"orient": "bottom-left", "offset": 11, "title": null}}
          }
        },
        {
          "data": {"name": "fit1"},
          "mark": {"type": "line", "strokeWidth": 1},
          "encoding": {
            "x": {"field": "k", "type": "quantitative", "axis": null},
            "y": {"field": "psd", "type": "quantitative", "axis": null},
            "color": {"field": "series", "type": "nominal", "legend": {"orient": "bottom-left", "offset": 11, "title": null}}
          }
        },
        {
          "data": {"name": "epslabels"},
          "mark": {"type": "text", "align": "left", "baseline": "middle", "fontSize": 14, "font": "Liberation Sans, DejaVu Sans", "color": "#262626"},
          "encoding": {
            "x": {"field": "k", "type": "quantitative", "axis": null},
            "y": {"field": "psd", "type": "quantitative", "axis": null},
            "text": {"field": "label"}
          }
        },
        {
          "data": {"name": "annot1"},
          "transform": [{"filter": "datum.role == 'main'"}],
          "mark": {"type": "text", "align": "left", "baseline": "alphabetic", "fontSize": 14, "font": "Liberation Sans, DejaVu Sans", "color": "#262626"},
          "encoding": {
            "x": {"field": "k", "type": "quantitative", "axis": null},
            "y": {"field": "psd", "type": "quantitative", "axis": null},
            "text": {"field": "text"}
          }
        },
        {
          "data": {"name": "annot1"},
          "transform": [{"filter": "datum.role != 'main'"}],
          "mark": {"type": "text", "align": "left", "baseline": "alphabetic", "fontSize": 11, "font": "Liberation Sans, DejaVu Sans", "color": "#262626"},
          "encoding": {
            "x": {"field": "k", "type": "quantitative", "axis": null},
            "y": {"field": "psd", "type": "quantitative", "axis": null},
            "text": {"field": "text"}
          }
        },
        {
          "data": {"name": "epslabels"},
          "mark": {"type": "point", "opacity": 0},
          "encoding": {
            "x": {"field": "k", "type": "quantitative", "axis": {"orient": "top", "title": null, "labels": false, "minExtent": 0, "maxExtent": 0, "values": [1,2,3,4,5,6,7,8,9,10,20,30,40,50,60,70,80,90,100,200,300,400,500,600,700,800,900,1000],
              "tickSize": {"condition": {"test": "abs(log(datum.value)/LN10 - round(log(datum.value)/LN10)) < 0.001", "value": -5}, "value": -3}}},
            "y": {"field": "psd", "type": "quantitative", "axis": {"orient": "right", "title": null, "labels": false, "minExtent": 0, "maxExtent": 0, "values": [1e-11,2e-11,3e-11,4e-11,5e-11,6e-11,7e-11,8e-11,9e-11,1e-10,2e-10,3e-10,4e-10,5e-10,6e-10,7e-10,8e-10,9e-10,1e-9,2e-9,3e-9,4e-9,5e-9,6e-9,7e-9,8e-9,9e-9,1e-8,2e-8,3e-8,4e-8,5e-8,6e-8,7e-8,8e-8,9e-8,1e-7,2e-7,3e-7,4e-7,5e-7,6e-7,7e-7,8e-7,9e-7,1e-6,2e-6,3e-6,4e-6,5e-6,6e-6,7e-6,8e-6,9e-6,1e-5,2e-5,3e-5,4e-5,5e-5,6e-5,7e-5,8e-5,9e-5,1e-4,2e-4,3e-4,4e-4,5e-4,6e-4,7e-4,8e-4,9e-4,1e-3,2e-3,3e-3,4e-3,5e-3,6e-3,7e-3,8e-3,9e-3,1e-2],
              "tickSize": {"condition": {"test": "abs(log(datum.value)/LN10 - round(log(datum.value)/LN10)) < 0.001", "value": -5}, "value": -3}}}
          }
        }
      ],
      "resolve": {"axis": {"x": "independent", "y": "independent"}}
    },
    {
      "width": 448, "height": 534,
      "title": {"text": "Spectrum 2"},
      "layer": [
        {
          "data": {"name": "eps"},
          "mark": {"type": "line", "strokeDash": [7, 4], "strokeWidth": 1},
          "encoding": {
            "x": {"field": "k", "type": "quantitative", "scale": {"type": "log", "domain": [1, 1000], "nice": false},
              "axis": {"orient": "bottom", "title": "Wave Number k (cpm)", "values": [1,2,3,4,5,6,7,8,9,10,20,30,40,50,60,70,80,90,100,200,300,400,500,600,700,800,900,1000],
                "labelExpr": "abs(log(datum.value)/LN10 - round(log(datum.value)/LN10)) < 0.001 ? '10' + ['⁰','¹','²','³'][round(log(datum.value)/LN10)] : ''",
                "tickSize": {"condition": {"test": "abs(log(datum.value)/LN10 - round(log(datum.value)/LN10)) < 0.001", "value": -5}, "value": -3},
                "labelPadding": 21, "titlePadding": 2}},
            "y": {"field": "psd", "type": "quantitative", "scale": {"type": "log", "domain": [1e-11, 1e-2], "nice": false},
              "axis": {"orient": "left", "title": "Power Spectrum Density (m.s⁻²)", "values": [1e-11,2e-11,3e-11,4e-11,5e-11,6e-11,7e-11,8e-11,9e-11,1e-10,2e-10,3e-10,4e-10,5e-10,6e-10,7e-10,8e-10,9e-10,1e-9,2e-9,3e-9,4e-9,5e-9,6e-9,7e-9,8e-9,9e-9,1e-8,2e-8,3e-8,4e-8,5e-8,6e-8,7e-8,8e-8,9e-8,1e-7,2e-7,3e-7,4e-7,5e-7,6e-7,7e-7,8e-7,9e-7,1e-6,2e-6,3e-6,4e-6,5e-6,6e-6,7e-6,8e-6,9e-6,1e-5,2e-5,3e-5,4e-5,5e-5,6e-5,7e-5,8e-5,9e-5,1e-4,2e-4,3e-4,4e-4,5e-4,6e-4,7e-4,8e-4,9e-4,1e-3,2e-3,3e-3,4e-3,5e-3,6e-3,7e-3,8e-3,9e-3,1e-2],
                "labelExpr": "abs(log(datum.value)/LN10 - round(log(datum.value)/LN10)) < 0.001 ? '10' + ['⁻¹¹','⁻¹⁰','⁻⁹','⁻⁸','⁻⁷','⁻⁶','⁻⁵','⁻⁴','⁻³','⁻²'][round(log(datum.value)/LN10)+11] : ''",
                "tickSize": {"condition": {"test": "abs(log(datum.value)/LN10 - round(log(datum.value)/LN10)) < 0.001", "value": -5}, "value": -3},
                "labelPadding": 12, "titlePadding": 9}},
            "stroke": {"field": "eps", "type": "nominal", "scale": {"domain": ["1e-6","1e-7","1e-8","1e-9","1e-10","1e-11"], "range": ["#9aae4a","#58c0ec","#a8384f","#2f80c0","#dc6a44","#ebbb45"]}, "legend": null}
          }
        },
        {
          "data": {"name": "obs2"},
          "mark": {"type": "line", "strokeWidth": 1},
          "encoding": {
            "x": {"field": "k", "type": "quantitative", "axis": null},
            "y": {"field": "psd", "type": "quantitative", "axis": null},
            "color": {"datum": "Obeserved Spectrum", "type": "nominal",
              "scale": {"domain": ["Obeserved Spectrum", "Lueck Fitting", "MSS Fitting", "MLE Fitting"], "range": ["#0072BD", "#D95319", "#EDB120", "#7E2F8E"]},
              "legend": {"orient": "bottom-left", "offset": 11, "title": null}}
          }
        },
        {
          "data": {"name": "fit2"},
          "mark": {"type": "line", "strokeWidth": 1},
          "encoding": {
            "x": {"field": "k", "type": "quantitative", "axis": null},
            "y": {"field": "psd", "type": "quantitative", "axis": null},
            "color": {"field": "series", "type": "nominal", "legend": {"orient": "bottom-left", "offset": 11, "title": null}}
          }
        },
        {
          "data": {"name": "epslabels"},
          "mark": {"type": "text", "align": "left", "baseline": "middle", "fontSize": 14, "font": "Liberation Sans, DejaVu Sans", "color": "#262626"},
          "encoding": {
            "x": {"field": "k", "type": "quantitative", "axis": null},
            "y": {"field": "psd", "type": "quantitative", "axis": null},
            "text": {"field": "label"}
          }
        },
        {
          "data": {"name": "annot2"},
          "transform": [{"filter": "datum.role == 'main'"}],
          "mark": {"type": "text", "align": "left", "baseline": "alphabetic", "fontSize": 14, "font": "Liberation Sans, DejaVu Sans", "color": "#262626"},
          "encoding": {
            "x": {"field": "k", "type": "quantitative", "axis": null},
            "y": {"field": "psd", "type": "quantitative", "axis": null},
            "text": {"field": "text"}
          }
        },
        {
          "data": {"name": "annot2"},
          "transform": [{"filter": "datum.role != 'main'"}],
          "mark": {"type": "text", "align": "left", "baseline": "alphabetic", "fontSize": 11, "font": "Liberation Sans, DejaVu Sans", "color": "#262626"},
          "encoding": {
            "x": {"field": "k", "type": "quantitative", "axis": null},
            "y": {"field": "psd", "type": "quantitative", "axis": null},
            "text": {"field": "text"}
          }
        },
        {
          "data": {"name": "epslabels"},
          "mark": {"type": "point", "opacity": 0},
          "encoding": {
            "x": {"field": "k", "type": "quantitative", "axis": {"orient": "top", "title": null, "labels": false, "minExtent": 0, "maxExtent": 0, "values": [1,2,3,4,5,6,7,8,9,10,20,30,40,50,60,70,80,90,100,200,300,400,500,600,700,800,900,1000],
              "tickSize": {"condition": {"test": "abs(log(datum.value)/LN10 - round(log(datum.value)/LN10)) < 0.001", "value": -5}, "value": -3}}},
            "y": {"field": "psd", "type": "quantitative", "axis": {"orient": "right", "title": null, "labels": false, "minExtent": 0, "maxExtent": 0, "values": [1e-11,2e-11,3e-11,4e-11,5e-11,6e-11,7e-11,8e-11,9e-11,1e-10,2e-10,3e-10,4e-10,5e-10,6e-10,7e-10,8e-10,9e-10,1e-9,2e-9,3e-9,4e-9,5e-9,6e-9,7e-9,8e-9,9e-9,1e-8,2e-8,3e-8,4e-8,5e-8,6e-8,7e-8,8e-8,9e-8,1e-7,2e-7,3e-7,4e-7,5e-7,6e-7,7e-7,8e-7,9e-7,1e-6,2e-6,3e-6,4e-6,5e-6,6e-6,7e-6,8e-6,9e-6,1e-5,2e-5,3e-5,4e-5,5e-5,6e-5,7e-5,8e-5,9e-5,1e-4,2e-4,3e-4,4e-4,5e-4,6e-4,7e-4,8e-4,9e-4,1e-3,2e-3,3e-3,4e-3,5e-3,6e-3,7e-3,8e-3,9e-3,1e-2],
              "tickSize": {"condition": {"test": "abs(log(datum.value)/LN10 - round(log(datum.value)/LN10)) < 0.001", "value": -5}, "value": -3}}}
          }
        }
      ],
      "resolve": {"axis": {"x": "independent", "y": "independent"}}
    }
  ],
  "resolve": {"scale": {"color": "independent"}}
}
